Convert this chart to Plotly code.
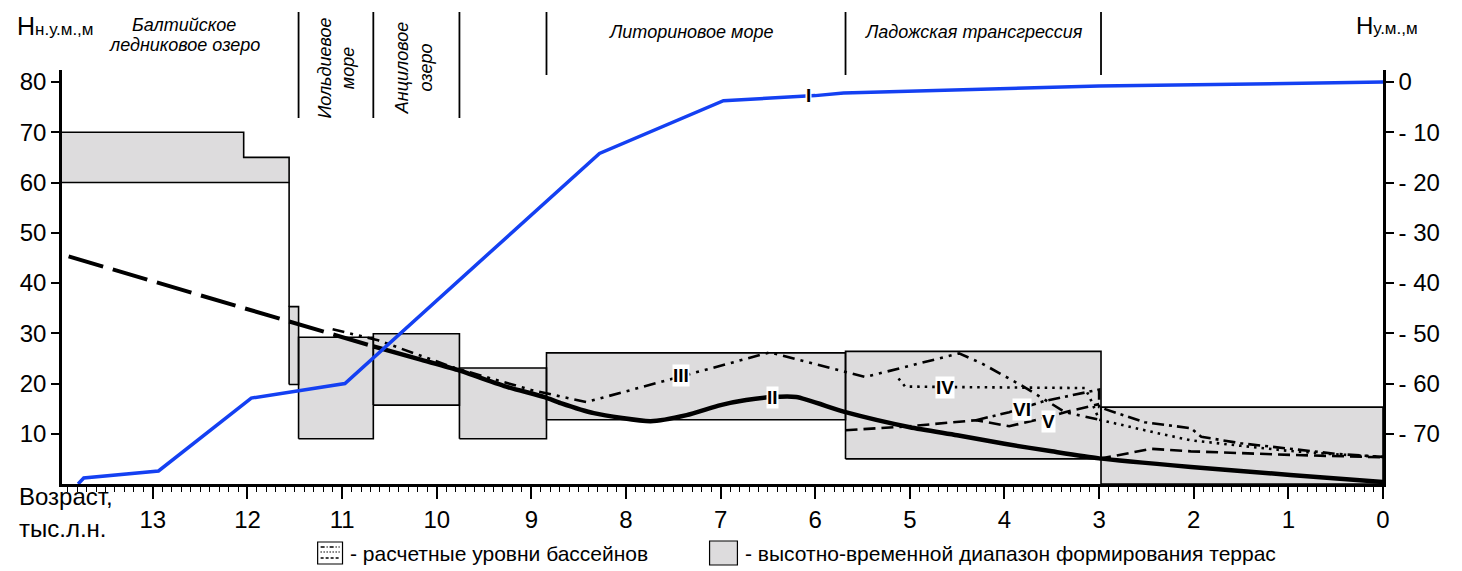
import plotly.graph_objects as go

# ---------------- data ----------------
# Terrace height-time ranges (ka BP, m a.s.l.)
rect_x0 = [11.56, 11.46, 10.67, 9.76, 8.84, 5.68, 2.98]
rect_x1 = [11.46, 10.67, 9.76, 8.84, 5.68, 2.98, 0.0]
rect_y0 = [19.8, 9.0, 15.7, 9.0, 12.8, 5.0, 0.0]
rect_y1 = [35.3, 29.2, 29.9, 23.1, 26.1, 26.4, 15.3]

# Baltic ice lake stepped range
baltic_x = [14.0, 12.04, 12.04, 11.56, 11.56, 14.0]
baltic_y = [70.0, 70.0, 65.0, 65.0, 60.0, 60.0]
baltic_edge_x = [11.56, 11.56]
baltic_edge_y = [60.0, 35.3]

# Curve I: Baltic level (right axis, m b.s.l.)
age_I = [13.79, 13.73, 12.94, 11.96, 10.97, 8.28, 6.97, 6.0, 5.7, 3.0, 0.0]
val_I = [-80.0, -78.8, -77.4, -62.9, -60.0, -14.2, -3.7, -2.7, -2.2, -0.8, 0.0]

# Curve II early part (long dash)
age_II0 = [13.89, 10.67]
val_II0 = [45.3, 27.4]
# Curve II
age_II = [10.67, 10.16, 9.78, 9.25, 8.86, 8.69, 8.34, 7.74, 7.36, 7.0, 6.73, 6.45,
          6.2, 5.68, 5.0, 4.5, 4.0, 3.5, 3.0, 2.03, 0.98, 0.0]
val_II = [27.4, 24.7, 22.7, 19.3, 17.3, 16.1, 14.1, 12.5, 13.7, 15.7, 16.7, 17.3,
          17.3, 14.3, 11.3, 9.7, 8.0, 6.5, 5.1, 3.4, 1.8, 0.4]

# Curve III
age_III = [11.1, 10.62, 9.81, 9.0, 8.42, 7.84, 6.48, 5.68, 5.47, 4.48, 4.24, 3.79, 3.36, 3.0]
val_III = [30.8, 28.6, 23.1, 18.7, 16.3, 19.3, 26.2, 22.3, 21.3, 26.0, 24.0, 19.3, 14.3, 12.8]

# Curve IV
age_IV = [5.12, 5.05, 4.6, 3.15, 3.1, 3.0, 2.38, 2.03, 1.5, 1.0, 0.5, 0.0]
val_IV = [21.0, 19.4, 19.3, 19.1, 17.3, 12.8, 10.1, 8.7, 7.6, 6.6, 5.9, 5.4]

# Curve V
age_V = [5.68, 5.0, 4.3, 3.95, 3.58, 3.36, 3.0]
val_V = [10.7, 11.5, 12.7, 11.5, 13.1, 14.3, 15.9]
age_V2 = [3.0, 2.45, 2.03, 0.98, 0.0]
val_V2 = [5.0, 7.0, 6.5, 5.8, 5.3]

# Curve VI
age_VI = [4.3, 3.95, 3.58, 3.15, 3.0, 3.0, 2.52, 2.03, 1.92, 1.5, 1.0, 0.5, 0.0]
val_VI = [12.7, 14.3, 16.5, 18.1, 18.8, 15.3, 12.3, 11.1, 9.4, 8.1, 7.0, 6.0, 5.4]

# Period boundaries
bound_age = [11.46, 10.67, 9.76, 8.84, 5.68, 2.98]
bound_long = [True, True, True, False, False, False]

x_ticks = list(range(0, 14))
y_ticks = [10, 20, 30, 40, 50, 60, 70, 80]
y2_ticks = [0, -10, -20, -30, -40, -50, -60, -70]
y2_text = ["0", "- 10", "- 20", "- 30", "- 40", "- 50", "- 60", "- 70"]

curve_labels = ["I", "II", "III", "IV", "V", "VI"]
label_age = [6.07, 6.45, 7.42, 4.63, 3.53, 3.82]
label_val = [77.3, 17.3, 21.5, 19.3, 12.5, 14.9]

# ---------------- layout geometry ----------------
# page has an 8px body margin; figure is placed at (8, 8)
OFF = 8
W, H = 1454, 563
L, R, T, B = 47, 79, 62, 87
PW, PH = W - L - R, H - T - B


def px(x):  # page pixel -> paper
    return (x - OFF - L) / PW


def py(y):
    return (H - B - (y - OFF)) / PH


FONT = "Liberation Sans, Arial, sans-serif"
GREY = "#dddcdd"
BLUE = "#1440f2"

fig = go.Figure()

fig.add_trace(go.Scatter(x=baltic_x, y=baltic_y, mode="lines", fill="toself",
                         fillcolor=GREY, line=dict(color="black", width=1.6),
                         hoverinfo="skip", showlegend=False))
fig.add_trace(go.Scatter(x=baltic_edge_x, y=baltic_edge_y, mode="lines",
                         line=dict(color="black", width=1.6), showlegend=False))

rx, ry = [], []
for a0, a1, b0, b1 in zip(rect_x0, rect_x1, rect_y0, rect_y1):
    rx += [a0, a1, a1, a0, a0, None]
    ry += [b0, b0, b1, b1, b0, None]
fig.add_trace(go.Scatter(x=rx, y=ry, mode="lines", fill="toself", fillcolor=GREY,
                         line=dict(color="black", width=1.6), showlegend=False))

fig.add_trace(go.Scatter(x=age_II0, y=val_II0, mode="lines",
                         line=dict(color="black", width=4, dash="36px,10px"), showlegend=False))
fig.add_trace(go.Scatter(x=age_III, y=val_III, mode="lines",
                         line=dict(color="black", width=2.6, dash="12px,6px,3px,6px,3px,6px"),
                         showlegend=False))
fig.add_trace(go.Scatter(x=age_IV, y=val_IV, mode="lines",
                         line=dict(color="black", width=2.6, dash="2.5px,5px"), showlegend=False))
fig.add_trace(go.Scatter(x=age_V, y=val_V, mode="lines",
                         line=dict(color="black", width=2.6, dash="12px,6px"), showlegend=False))
fig.add_trace(go.Scatter(x=age_V2, y=val_V2, mode="lines",
                         line=dict(color="black", width=2.6, dash="12px,6px"), showlegend=False))
fig.add_trace(go.Scatter(x=age_VI, y=val_VI, mode="lines",
                         line=dict(color="black", width=2.6, dash="12px,5px,3px,5px"),
                         showlegend=False))
fig.add_trace(go.Scatter(x=age_II, y=val_II, mode="lines", line_shape="spline",
                         line=dict(color="black", width=4.5, smoothing=0.6), showlegend=False))

fig.add_trace(go.Scatter(x=age_I, y=val_I, mode="lines", yaxis="y2",
                         line=dict(color=BLUE, width=3.5), showlegend=False))

shapes = []
for a, lg in zip(bound_age, bound_long):
    shapes.append(dict(type="line", xref="x", yref="paper", x0=a, x1=a,
                       y0=py(118 if lg else 75), y1=py(12),
                       line=dict(color="black", width=1.8)))

annotations = []
for t, a, v in zip(curve_labels, label_age, label_val):
    annotations.append(dict(x=a, y=v, xref="x", yref="y", text=f"<b>{t}</b>",
                            showarrow=False, bgcolor="white", borderpad=0,
                            font=dict(family="Liberation Sans Narrow, Arial Narrow, " + FONT,
                                      size=19, color="black")))


def ann(x, y, text, size=18, italic=False, angle=0, xanchor="center", align="center"):
    t = f"<i>{text}</i>" if italic else text
    annotations.append(dict(x=px(x), y=py(y), xref="paper", yref="paper", text=t,
                            showarrow=False, textangle=angle, xanchor=xanchor,
                            yanchor="middle", align=align,
                            font=dict(family=FONT, size=size, color="black")))


ann(8, 26, "Н<span style='font-size:17px'>н.у.м.,м</span>", size=25, xanchor="left")
ann(1354, 26, "Н<span style='font-size:17px'>у.м.,м</span>", size=24, xanchor="left")
ann(178, 25, "Балтийское", italic=True)
ann(178, 45, "ледниковое озеро", italic=True)
ann(331, 68, "Иольдиевое<br>море", italic=True, angle=-90)
ann(409, 68, "Анциловое<br>озеро", italic=True, angle=-90)
ann(688, 32, "Литориновое море", italic=True)
ann(972, 32, "Ладожская трансгрессия", italic=True)
ann(10, 497, "Возраст,", size=24, xanchor="left")
ann(10, 528, "тыс.л.н.", size=24, xanchor="left")

# legend
shapes.append(dict(type="rect", xref="paper", yref="paper", x0=px(312), x1=px(337),
                   y0=py(564), y1=py(542), line=dict(color="black", width=1.2),
                   fillcolor="white"))
shapes.append(dict(type="line", xref="paper", yref="paper", x0=px(315), x1=px(334),
                   y0=py(547), y1=py(547), line=dict(color="black", width=1.3, dash="4px,2px,1px,2px")))
shapes.append(dict(type="line", xref="paper", yref="paper", x0=px(315), x1=px(334),
                   y0=py(552), y1=py(552), line=dict(color="black", width=1.3, dash="1px,2px")))
shapes.append(dict(type="line", xref="paper", yref="paper", x0=px(315), x1=px(334),
                   y0=py(558), y1=py(558), line=dict(color="black", width=1.3, dash="3px,2px")))
ann(343, 553, "- расчетные уровни бассейнов", size=21, xanchor="left")
shapes.append(dict(type="rect", xref="paper", yref="paper", x0=px(706), x1=px(734),
                   y0=py(565), y1=py(541), line=dict(color="black", width=1.2),
                   fillcolor=GREY))
ann(740, 553, "- высотно-временной диапазон формирования террас", size=21, xanchor="left")

fig.update_layout(
    width=W, height=H,
    margin=dict(l=L, r=R, t=T, b=B, pad=0),
    plot_bgcolor="white", paper_bgcolor="white",
    font=dict(family=FONT, color="black"),
    shapes=shapes, annotations=annotations,
    xaxis=dict(range=[13.96, 0], tickvals=x_ticks, ticks="outside", ticklen=12,
               tickwidth=2, tickcolor="black", showline=True, linecolor="black",
               linewidth=2.5, showgrid=False, zeroline=False,
               tickfont=dict(size=24, family=FONT),
               minor=dict(dtick=0.1, ticks="outside", ticklen=5, tickwidth=1,
                          tickcolor="black", showgrid=False)),
    yaxis=dict(range=[0, 82.4], tickvals=y_ticks, ticks="outside", ticklen=8,
               tickwidth=2, tickcolor="black", showline=True, linecolor="black",
               linewidth=2.5, showgrid=False, zeroline=False,
               tickfont=dict(size=24, family=FONT)),
    yaxis2=dict(range=[-80, 2.4], overlaying="y", side="right", tickvals=y2_ticks,
                ticktext=y2_text, ticks="outside", ticklen=8, tickwidth=2,
                tickcolor="black", showline=True, linecolor="black", linewidth=2.5,
                showgrid=False, zeroline=False, tickfont=dict(size=24, family=FONT)),
)

fig.write_html("out.html")
